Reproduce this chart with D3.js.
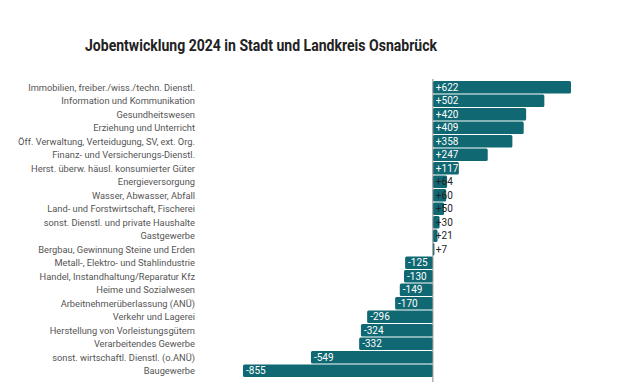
<!DOCTYPE html>
<html>
<head>
<meta charset="utf-8">
<script src="https://cdn.jsdelivr.net/npm/d3@7"></script>
<style>
  body { margin: 0; background: #fff; }
  svg { display: block; }
</style>
</head>
<body>
<div id="chart"></div>
<script>
// data
var categories = [
  'Immobilien, freiber./wiss./techn. Dienstl.',
  'Information und Kommunikation',
  'Gesundheitswesen',
  'Erziehung und Unterricht',
  'Öff. Verwaltung, Verteidugung, SV, ext. Org.',
  'Finanz- und Versicherungs-Dienstl.',
  'Herst. überw. häusl. konsumierter Güter',
  'Energieversorgung',
  'Wasser, Abwasser, Abfall',
  'Land- und Forstwirtschaft, Fischerei',
  'sonst. Dienstl. und private Haushalte',
  'Gastgewerbe',
  'Bergbau, Gewinnung Steine und Erden',
  'Metall-, Elektro- und Stahlindustrie',
  'Handel, Instandhaltung/Reparatur Kfz',
  'Heime und Sozialwesen',
  'Arbeitnehmerüberlassung (ANÜ)',
  'Verkehr und Lagerei',
  'Herstellung von Vorleistungsgütern',
  'Verarbeitendes Gewerbe',
  'sonst. wirtschaftl. Dienstl. (o.ANÜ)',
  'Baugewerbe'
];
var values = [622, 502, 420, 409, 358, 247, 117, 64, 60, 50, 30, 21, 7,
  -125, -130, -149, -170, -296, -324, -332, -549, -855];

var chart_width = 628;
var chart_height = 386;
var barColor = '#0f6872';

var svg = d3.select('#chart')
  .append('svg')
  .attr('width', chart_width)
  .attr('height', chart_height);

// title is set in a condensed face in the original, so squeeze it to the same width
svg.append('text')
  .attr('x', 85)
  .attr('y', 51)
  .attr('font-family', 'Roboto, sans-serif')
  .attr('font-weight', 'bold')
  .attr('font-size', 16)
  .attr('fill', '#222')
  .attr('textLength', 352)
  .attr('lengthAdjust', 'spacingAndGlyphs')
  .text('Jobentwicklung 2024 in Stadt und Landkreis Osnabrück');

var x_scale = d3.scaleLinear()
  .domain([-855, 622])
  .range([243, 571]);

var y_scale = d3.scaleBand()
  .domain(categories)
  .range([80.5, 80.5 + 22 * 13.5])
  .paddingInner(0.08)
  .paddingOuter(0.04);

var rows = categories.map(function(c, i) { return { name: c, value: values[i] }; });

// category labels
svg.selectAll('.cat')
  .data(rows)
  .enter()
  .append('text')
  .attr('class', 'cat')
  .attr('x', 195)
  .attr('y', function(d) { return y_scale(d.name) + y_scale.bandwidth() / 2; })
  .attr('dy', '0.35em')
  .attr('text-anchor', 'end')
  .attr('font-family', 'Roboto, sans-serif')
  .attr('font-size', 9.3)
  .attr('fill', '#555')
  .text(function(d) { return d.name; });

// bars
svg.selectAll('.bar')
  .data(rows)
  .enter()
  .append('rect')
  .attr('class', 'bar')
  .attr('x', function(d) { return x_scale(Math.min(0, d.value)); })
  .attr('y', function(d) { return y_scale(d.name); })
  .attr('width', function(d) { return Math.abs(x_scale(d.value) - x_scale(0)); })
  .attr('height', y_scale.bandwidth())
  .attr('rx', 1.5)
  .attr('fill', barColor);

// zero line
svg.append('line')
  .attr('x1', x_scale(0))
  .attr('x2', x_scale(0))
  .attr('y1', 79)
  .attr('y2', 382)
  .attr('stroke', '#888')
  .attr('stroke-width', 1);

// value labels
svg.selectAll('.val')
  .data(rows)
  .enter()
  .append('text')
  .attr('class', 'val')
  .attr('x', function(d) { return x_scale(Math.min(0, d.value)) + 3; })
  .attr('y', function(d) { return y_scale(d.name) + y_scale.bandwidth() / 2; })
  .attr('dy', '0.36em')
  .attr('font-family', 'Roboto, sans-serif')
  .attr('font-size', 10)
  .attr('fill', function(d) { return Math.abs(d.value) >= 100 ? '#fff' : '#222'; })
  .text(function(d) { return (d.value > 0 ? '+' : '') + d.value; });
</script>
</body>
</html>
